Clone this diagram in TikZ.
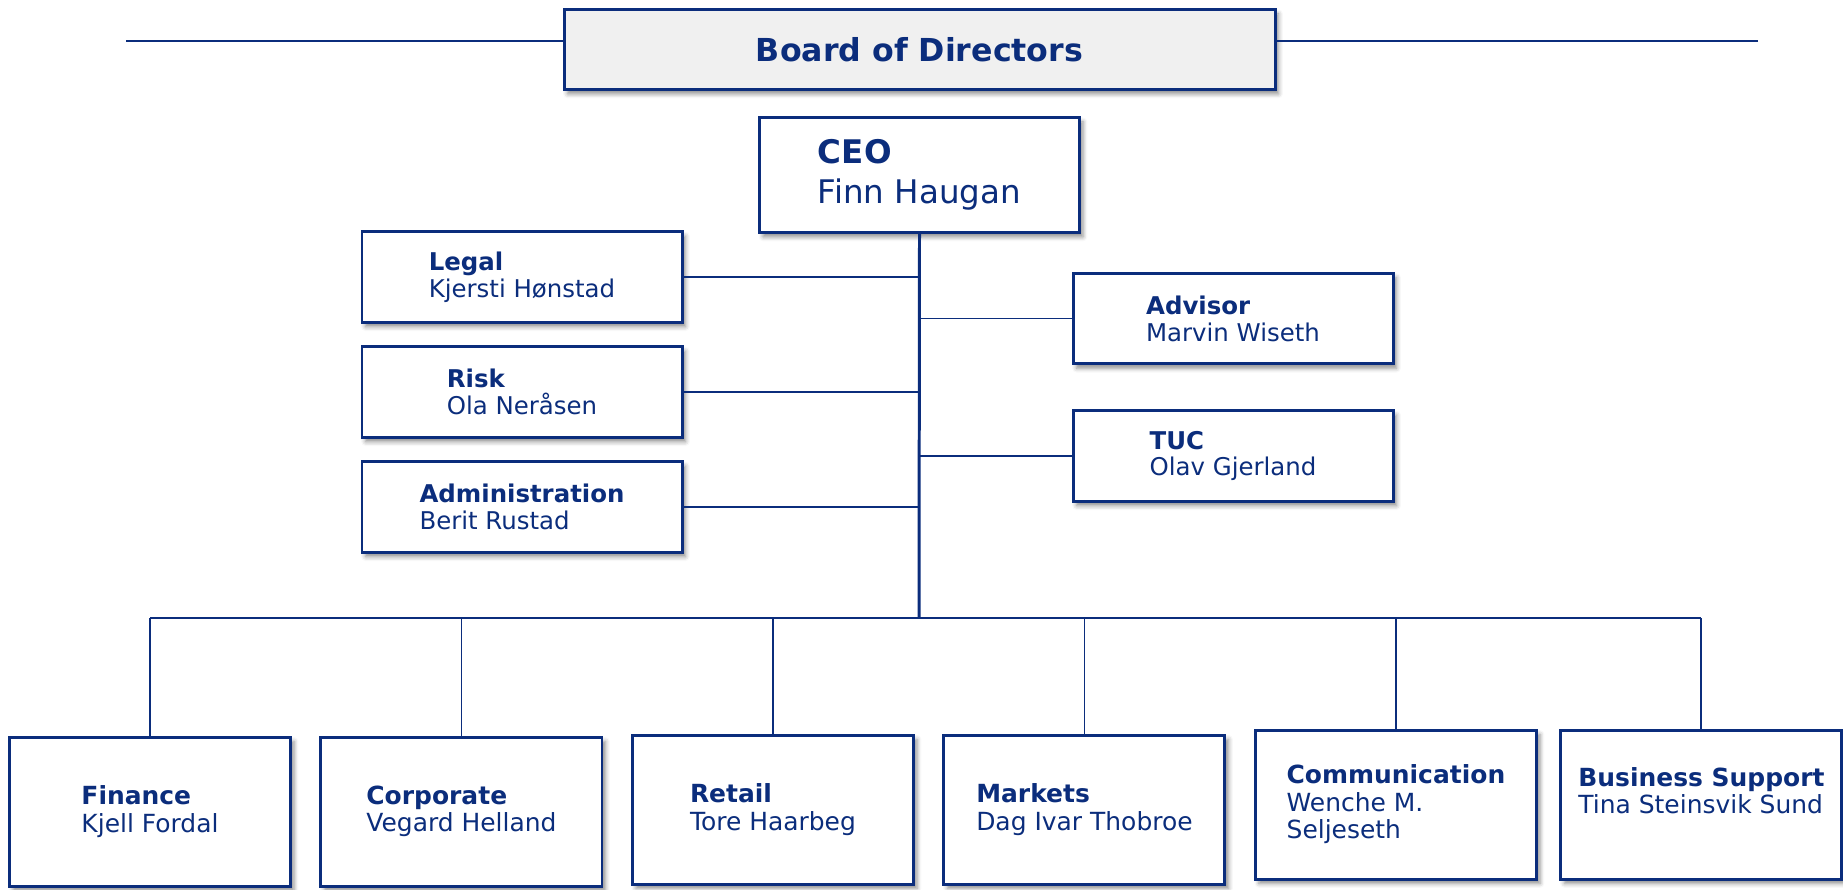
\documentclass[tikz,border=0pt]{standalone}
\usepackage{fontspec}
\setmainfont{DejaVu Sans}
\usetikzlibrary{positioning,shadows.blur}
\definecolor{navy}{HTML}{0B2D7C}
\definecolor{boardgray}{HTML}{F0F0F0}
\newcommand{\role}[2]{\textbf{#1}\\#2}

\begin{document}
\begin{tikzpicture}[
    unit/.style={draw=navy, line width=1.7pt, fill=white, text=navy, align=left,
      blur shadow={shadow xshift=2pt, shadow yshift=-2.5pt, shadow blur radius=2.5pt, shadow opacity=45},
      font=\fontsize{13.9}{15.3}\selectfont},
    staffbox/.style={unit, minimum width=6.4cm, minimum height=1.81cm},
    deptbox/.style={unit, minimum width=5.62cm, minimum height=2.98cm,
      font=\fontsize{14.2}{15.6}\selectfont},
    ceobox/.style={unit, minimum width=6.4cm, minimum height=2.3cm,
      font=\fontsize{18.5}{23}\selectfont},
    boardbox/.style={unit, fill=boardgray, minimum width=14.22cm, minimum height=1.6cm,
      font=\fontsize{18}{22}\bfseries},
    link/.style={draw=navy, line width=1.1pt},
    trunk/.style={draw=navy, line width=1.7pt}
  ]
    \useasboundingbox (0,0) rectangle (36.86,-17.78);

    % board and ceo
    \node [boardbox] (board) at (18.39,-0.99) {Board of Directors};
    \coordinate (bl) at (2.52,-0.82);
    \coordinate (br) at (35.16,-0.82);
    \draw [trunk] (bl) -- (bl -| board.west);
    \draw [trunk] (br) -- (br -| board.east);
    \node [ceobox, below = 0.5cm of board] (ceo) {\role{CEO}{Finn Haugan}};

    % staff
    \node [staffbox] (legal) at (10.44,-5.54) {\role{Legal}{Kjersti Hønstad}};
    \node [staffbox, below = 0.43cm of legal] (risk) {\role{Risk}{Ola Neråsen}};
    \node [staffbox, below = 0.43cm of risk] (admin) {\role{Administration}{Berit Rustad}};
    \node [staffbox] (advisor) at (24.66,-6.37) {\role{Advisor}{Marvin Wiseth}};
    \node [staffbox, below = 0.88cm of advisor] (tuc) {\role{TUC}{Olav Gjerland}};

    % departments
    \node [deptbox] (finance) at (3.0,-16.23) {\role{Finance}{Kjell Fordal}};
    \node [deptbox, right = 0.55cm of finance] (corporate) {\role{Corporate}{Vegard Helland}};
    \node [deptbox, right = 0.55cm of corporate, yshift=0.04cm] (retail) {\role{Retail}{Tore Haarbeg}};
    \node [deptbox, right = 0.55cm of retail] (markets) {\role{Markets}{Dag Ivar Thobroe}};
    \node [deptbox, right = 0.55cm of markets, yshift=0.1cm] (comm) {\role{Communication}{Wenche M.\\Seljeseth}};
    \node [deptbox, right = 0.43cm of comm] (support) {\role{Business Support}{Tina Steinsvik Sund\\\mbox{}}};

    \coordinate (bus) at (18.38,-12.36);
    \draw [trunk] (ceo.south) -- (bus);
    \foreach \s in {legal,risk,admin}
      \draw [link] (ceo.south |- \s.east) -- (\s.east);
    \foreach \s in {advisor,tuc}
      \draw [link] (ceo.south |- \s.west) -- (\s.west);
    \draw [link] (finance.north |- bus) -- (support.north |- bus);
    \foreach \d in {finance,corporate,retail,markets,comm,support}
      \draw [link] (\d.north |- bus) -- (\d.north);
\end{tikzpicture}
\end{document}
